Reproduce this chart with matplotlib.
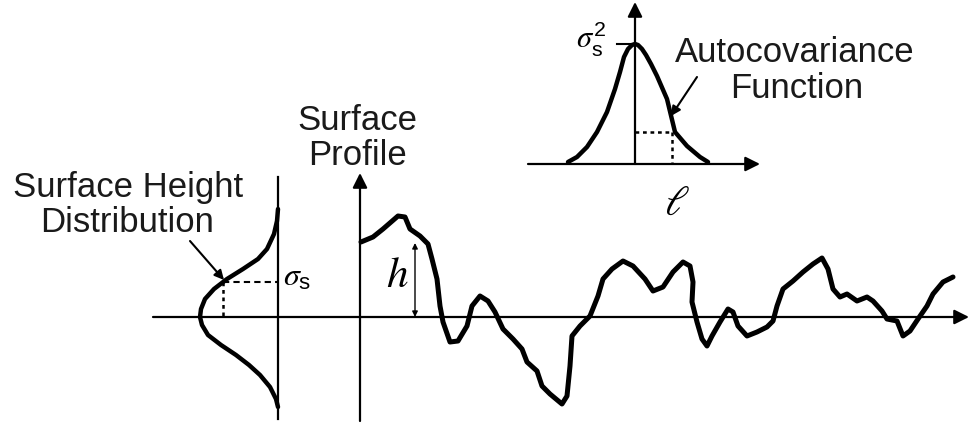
"""
表面粗糙度示意图: 表面轮廓 + 高度分布 + 自协方差函数
整张图用像素坐标来画 (x: 0..969, y: 0..427, y 向下)
"""

import matplotlib.pyplot as plt

plt.rcParams["font.family"] = ["Liberation Sans", "DejaVu Sans"]
# 希腊字母用 STIX 斜体, 下标/上标用无衬线正体 (跟原图一样)
plt.rcParams["mathtext.fontset"] = "custom"
plt.rcParams["mathtext.it"] = "STIXGeneral:italic"
plt.rcParams["mathtext.rm"] = "Liberation Sans"
plt.rcParams["mathtext.sf"] = "Liberation Sans"
plt.rcParams["mathtext.fallback"] = "stix"

# ---- 表面轮廓 (从图上读的点) ----
profile_x = [361, 373, 383, 398, 405, 410, 420, 428, 432, 437, 440, 443, 450, 458,
             467, 472, 480, 488, 495, 503, 513, 522, 527, 537, 542, 550, 562, 567,
             570, 572, 580, 590, 598, 603, 612, 623, 633, 645, 653, 663, 673, 683,
             690, 693, 692, 697, 702, 707, 712, 720, 728, 733, 738, 747, 757, 767,
             773, 777, 783, 793, 803, 813, 822, 828, 833, 840, 847, 857, 867, 873,
             882, 887, 897, 903, 910, 918, 927, 933, 943, 953]
profile_y = [243, 238, 230, 217, 218, 230, 237, 245, 260, 280, 307, 323, 343, 342,
             327, 307, 297, 302, 313, 330, 340, 350, 363, 372, 387, 395, 405, 397,
             367, 337, 327, 317, 297, 280, 270, 262, 267, 280, 292, 288, 273, 263,
             267, 283, 303, 323, 340, 347, 337, 323, 310, 313, 327, 337, 333, 328,
             322, 307, 290, 282, 273, 265, 259, 270, 290, 298, 295, 302, 298, 302,
             312, 320, 322, 337, 332, 320, 307, 295, 283, 278]

# ---- 高度分布 (竖着的钟形, 距竖轴的宽度) ----
dist_y = [210, 222, 235, 250, 260, 270, 280, 290, 300, 310, 318,
          326, 336, 346, 356, 366, 376, 388, 400, 408]
dist_w = [0, 1, 4, 11, 20, 35, 51, 64, 73, 77, 78,
          76, 70, 57, 42, 29, 18, 8, 2, 0]

# ---- 自协方差函数 ----
acf_x = [568, 577, 587, 597, 607, 615, 620, 624, 628, 632, 635, 638, 642,
         646, 651, 657, 667, 675, 687, 700, 708]
acf_y = [163, 158, 148, 133, 113, 90, 73, 58, 50, 46, 45, 46, 50,
         56, 65, 77, 100, 133, 147, 158, 163]


def arrow(ax, start, tip, lw=1.5, head=20, style="-|>"):
    ax.annotate("", xy=tip, xytext=start,
                arrowprops=dict(arrowstyle=style, lw=lw, color="black",
                                mutation_scale=head, shrinkA=0, shrinkB=0))


def main():
    fig = plt.figure(figsize=(9.69, 4.27), dpi=100)
    ax = fig.add_axes([0, 0, 1, 1])
    ax.set_xlim(0, 969)
    ax.set_ylim(427, 0)
    ax.axis("off")

    curve = dict(color="black", solid_joinstyle="round", solid_capstyle="round")

    # 主横轴 + 轮廓竖轴 + 分布竖轴
    arrow(ax, (153, 318), (969, 318), lw=1.6, head=22)
    arrow(ax, (360, 422), (360, 174), lw=1.6, head=22)
    ax.plot([278, 278], [178, 420], color="black", lw=1.6)

    # 轮廓曲线
    ax.plot(profile_x, profile_y, lw=3.6, **curve)

    # h 标注
    arrow(ax, (415, 318), (415, 244), lw=1.0, head=8, style="<|-|>")
    ax.text(397, 287, r"$h$", fontsize=31, ha="center", va="baseline")

    # 高度分布
    ax.plot([278 - w for w in dist_w], dist_y, lw=3.2, **curve)
    ax.plot([223, 278], [283, 283], color="black", lw=1.5, ls=(0, (3, 2)))
    ax.plot([223, 223], [283, 318], color="black", lw=1.8, ls=(0, (1.5, 1.5)))
    ax.text(283, 286, r"$\sigma_\mathrm{s}$", fontsize=23, ha="left", va="baseline")
    arrow(ax, (190, 242), (224, 281), lw=1.5, head=14)

    # 自协方差插图
    arrow(ax, (528, 165), (760, 165), lw=1.6, head=22)
    arrow(ax, (635, 165), (635, 3), lw=1.6, head=22)
    ax.plot(acf_x, acf_y, lw=3.2, **curve)
    ax.plot([635, 672], [133, 133], color="black", lw=1.8, ls=(0, (1.5, 1.5)))
    ax.plot([672, 672], [133, 165], color="black", lw=1.8, ls=(0, (1.5, 1.5)))
    ax.plot([617, 632], [45, 45], color="black", lw=1.5)
    ax.text(576, 48, r"$\sigma_\mathrm{s}^\mathrm{2}$", fontsize=22,
            ha="left", va="baseline")
    ax.text(677, 215, r"$\ell$", fontsize=30, ha="center", va="baseline")
    arrow(ax, (697, 78), (671, 117), lw=1.5, head=14)

    # 文字标签
    lab = dict(fontsize=25, ha="center", va="baseline", color="#1a1a1a")
    ax.text(128, 197, "Surface Height", **lab)
    ax.text(127, 232, "Distribution", **lab)
    ax.text(357, 130, "Surface", **lab)
    ax.text(358, 165, "Profile", **lab)
    ax.text(795, 62, "Autocovariance", **lab)
    ax.text(797, 98, "Function", **lab)

    fig.savefig("out.png", dpi=100)


if __name__ == "__main__":
    main()
